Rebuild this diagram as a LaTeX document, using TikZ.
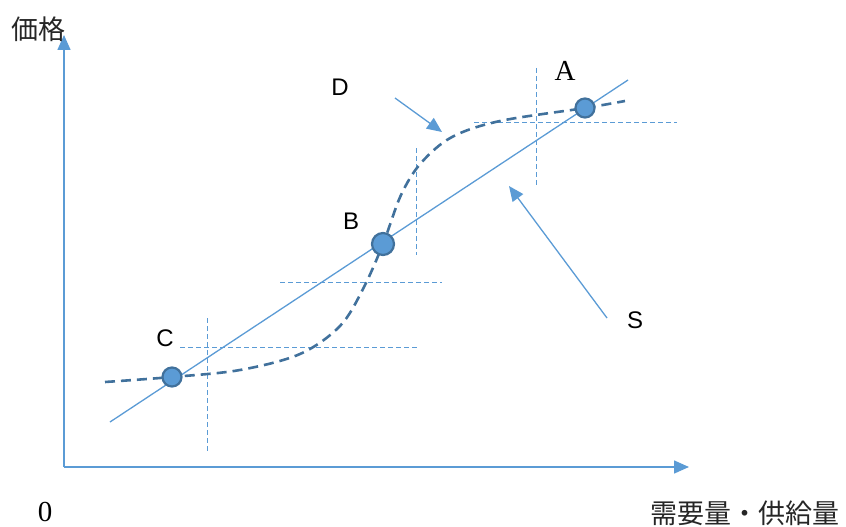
\documentclass[tikz,border=0pt]{standalone}
\usepackage{fontspec}
\newfontfamily\cjk{Noto Sans CJK JP}
\newfontfamily\arial{Liberation Sans}
\newfontfamily\myserif{Liberation Serif}
\usetikzlibrary{arrows.meta}
\definecolor{lblue}{HTML}{5B9BD5}
\definecolor{dblue}{HTML}{41719C}
\tikzset{
  axis/.style={draw=lblue, line width=1.5pt, -{Triangle[length=15pt,width=13pt]}},
  sline/.style={draw=lblue, line width=1.3pt},
  dcurve/.style={draw=dblue, line width=2.6pt, dash pattern=on 10pt off 6pt},
  guide/.style={draw=lblue, line width=1pt, dash pattern=on 5pt off 3pt},
  pointer/.style={draw=lblue, line width=1.3pt, -{Triangle[length=15pt,width=13pt]}},
  dot/.style={circle, fill=lblue, draw=dblue, line width=2.2pt, inner sep=0pt},
  cjklabel/.style={font=\cjk\fontsize{27}{27}\selectfont, text=black!85, inner sep=0pt},
  sanslabel/.style={font=\arial\fontsize{24}{24}\selectfont, inner sep=0pt},
  seriflabel/.style={font=\myserif\fontsize{29}{29}\selectfont, inner sep=0pt}
}
\begin{document}
\begin{tikzpicture}[x=1pt,y=-1pt]
\useasboundingbox (0,0) rectangle (846,527);
% axes
\coordinate (O) at (64,467);
\coordinate (Ytip) at (64,35);
\coordinate (Xtip) at (689,467);
\draw[axis] (O) -- (Ytip);
\draw[axis] (O) -- (Xtip);
\node[cjklabel] (ylab) at (38,29) {価格};
\node[cjklabel] (xlab) at (745,513) {需要量・供給量};
\node[seriflabel, anchor=base] (zero) at (45,521) {0};
% guides
\coordinate (ga1) at (474,122); \coordinate (ga2) at (677,122);
\coordinate (ga3) at (536,68);  \coordinate (ga4) at (536,186);
\coordinate (gb1) at (280,282); \coordinate (gb2) at (442,282);
\coordinate (gb3) at (416,148); \coordinate (gb4) at (416,255);
\coordinate (gc1) at (180,347); \coordinate (gc2) at (417,347);
\coordinate (gc3) at (207.5,318); \coordinate (gc4) at (207.5,453);
\draw[guide] (ga1) -- (ga2);
\draw[guide] (ga3) -- (ga4);
\draw[guide] (gb1) -- (gb2);
\draw[guide] (gb3) -- (gb4);
\draw[guide] (gc1) -- (gc2);
\draw[guide] (gc3) -- (gc4);
% S line
\coordinate (s1) at (110,422);
\coordinate (s2) at (628,80);
\draw[sline] (s1) -- (s2);
% D curve
\draw[dcurve] plot[smooth, tension=0.55] coordinates {(105,382) (172,377) (240,370) (300,354) (340,326) (363,289) (383,244) (401,195) (421,163) (452,137) (500,121) (585,108) (625,101)};
% points
\node[dot, minimum size=19pt] (A) at (585,108) {};
\node[dot, minimum size=22pt] (B) at (383,244) {};
\node[dot, minimum size=19pt] (C) at (172,377) {};
% labels
\node[seriflabel] (Alab) at (565,71) {A};
\node[sanslabel] (Blab) at (351,221) {B};
\node[sanslabel] (Clab) at (165,338) {C};
\node[sanslabel] (Dlab) at (340,87) {D};
\node[sanslabel] (Slab) at (635,320) {S};
% pointers
\coordinate (dp1) at (395,98);  \coordinate (dp2) at (442,132);
\coordinate (sp1) at (607,318); \coordinate (sp2) at (509,186);
\draw[pointer] (dp1) -- (dp2);
\draw[pointer] (sp1) -- (sp2);
\end{tikzpicture}
\end{document}
